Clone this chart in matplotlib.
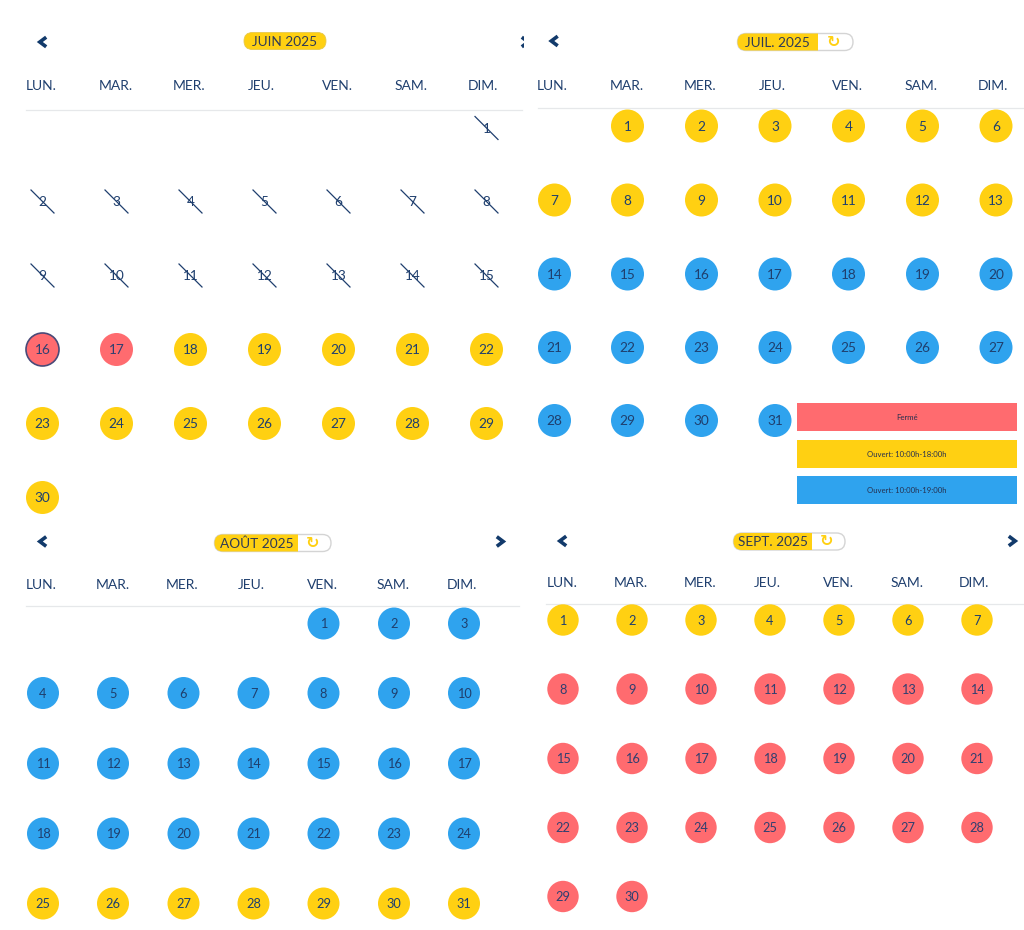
import matplotlib
matplotlib.use("Agg")
import matplotlib.pyplot as plt
from matplotlib.patches import Circle, FancyBboxPatch, Rectangle

plt.rcParams['font.family'] = ['Lato', 'DejaVu Sans']

WEEKDAYS = ["LUN.", "MAR.", "MER.", "JEU.", "VEN.", "SAM.", "DIM."]
RED, YEL, BLU, NAVY = "#FF6B6F", "#FFD012", "#2FA3EE", "#1F3F6E"

# Day status by month: x = past (struck out), r = closed, y = 10-18h, b = 10-19h
june_status = ["x"] * 15 + ["r", "r"] + ["y"] * 13
july_status = ["y"] * 13 + ["b"] * 18
aug_status = ["b"] * 24 + ["y"] * 7
sept_status = ["y"] * 7 + ["r"] * 23
first_weekday = {"june": 6, "july": 1, "aug": 4, "sept": 0}
legend_labels = ["Fermé", "Ouvert: 10:00h-18:00h", "Ouvert: 10:00h-19:00h"]
legend_colors = [RED, YEL, BLU]
legend_tops = [403, 440, 476]

panels = [
    dict(key="june", title="JUIN 2025", status=june_status, cols=[42.5, 116.5, 190.5, 264.5, 338.5, 412.5, 486.5],
         rows=[128, 201.5, 275.5, 349.5, 423.5, 497.5], head=[41, 116, 189, 261, 337, 411, 483], head_y=86.5,
         rule=(26, 522, 110), r=16.5, pill=(244, 326, None, 41), arrows=(43, 525, 42), fs=9.8),
    dict(key="july", title="JUIL. 2025", status=july_status, cols=[554.5, 627.5, 701.5, 775, 848.5, 922.5, 996],
         rows=[126, 200, 274, 347.5, 420.5], head=[552, 627, 700.5, 772, 847, 921, 993], head_y=85.5,
         rule=(538, 1024, 108), r=16.5, pill=(737.5, 853, 818, 42), arrows=(554.5, None, 41), fs=9.8),
    dict(key="aug", title="AOÛT 2025", status=aug_status, cols=[43, 113, 183.5, 253.5, 323.5, 394, 464],
         rows=[623.5, 693, 763.5, 833.5, 903.5], head=[41, 113, 182, 251, 322, 393, 462], head_y=584.5,
         rule=(26, 519, 606), r=16, pill=(214.5, 331, 298, 543), arrows=(43, 500, 541.5), fs=9.2),
    dict(key="sept", title="SEPT. 2025", status=sept_status, cols=[563, 632, 701, 770, 839, 908, 977],
         rows=[620, 689, 758.5, 827.5, 896.5], head=[562, 631, 700, 767, 838, 907, 974], head_y=582.5,
         rule=(546, 1024, 604), r=15.7, pill=(733.5, 845, 812, 541.5), arrows=(563, 1012, 541), fs=9.2),
]

fig = plt.figure(figsize=(10.24, 9.30), dpi=100)
ax = fig.add_axes([0, 0, 1, 1])
ax.set_xlim(0, 1024)
ax.set_ylim(930, 0)
ax.axis("off")
fig.patch.set_facecolor("white")
COL = {"r": RED, "y": YEL, "b": BLU}


def chevron(x, y, direction, clip=None):
    line, = ax.plot([x + direction * 3.2, x - direction * 3.2, x + direction * 3.2],
                    [y - 4.8, y, y + 4.8], color="#123A6B", lw=2.6, solid_capstyle="butt",
                    solid_joinstyle="miter", zorder=6)
    if clip is not None:
        line.set_clip_path(clip)


for p in panels:
    # Calendar cells
    wd = first_weekday[p["key"]]
    for i, status in enumerate(p["status"]):
        slot = wd + i
        cx, cy = p["cols"][slot % 7], p["rows"][slot // 7]
        if status == "x":
            ax.plot([cx - 11.5, cx + 11.5], [cy - 11.5, cy + 11.5], color=NAVY, lw=0.9, zorder=4)
        else:
            edge = "#4A4A78" if (p["key"] == "june" and i == 15) else "none"
            ax.add_patch(Circle((cx, cy), p["r"], facecolor=COL[status], edgecolor=edge, lw=1.2, zorder=2))
        ax.text(cx, cy + 0.8, str(i + 1), ha="center", va="center", fontsize=p["fs"],
                color=NAVY if status != "r" else "#2F3F70", zorder=3)
    # Weekday header
    for x, name in zip(p["head"], WEEKDAYS):
        ax.text(x, p["head_y"], name, ha="center", va="center", fontsize=10, color=NAVY)
    x0, x1, y = p["rule"]
    ax.plot([x0, x1], [y, y], color="#E6E8EA", lw=0.9, zorder=1)
    # Title pill
    a, b, split, py = p["pill"]
    h = 17
    shape = dict(boxstyle=f"round,pad=0,rounding_size={h / 2}", mutation_aspect=1)
    if split is None:
        ax.add_patch(FancyBboxPatch((a, py - h / 2), b - a, h, facecolor=YEL, edgecolor="#E6C84A", lw=0.6, zorder=2, **shape))
        tx = (a + b) / 2
    else:
        ax.add_patch(FancyBboxPatch((a, py - h / 2), b - a, h, facecolor="white", edgecolor="#D4D4D4", lw=1, zorder=2, **shape))
        fill = FancyBboxPatch((a, py - h / 2), b - a, h, facecolor=YEL, edgecolor="none", zorder=3, **shape)
        ax.add_patch(fill)
        fill.set_clip_path(Rectangle((a - 2, py - h), split - a + 2, 2 * h, transform=ax.transData))
        tx = (a + split) / 2
        ax.text((split + b) / 2 - 2, py, "↻", ha="center", va="center", fontsize=11.5,
                fontweight="bold", color=YEL, family="DejaVu Sans", zorder=4)
    ax.text(tx, py + 0.8, p["title"], ha="center", va="center", fontsize=9.8, color="#2F3A55", zorder=5)
    # Navigation arrows
    left, right, ay = p["arrows"]
    chevron(left, ay, 1)
    if right is not None:
        clip = Rectangle((0, 0), 524, 930, transform=ax.transData) if p["key"] == "june" else None
        chevron(right, ay, -1, clip)

# Legend
for top, label, color in zip(legend_tops, legend_labels, legend_colors):
    ax.add_patch(Rectangle((797, top), 220, 28, facecolor=color, edgecolor="none", zorder=5))
    ax.text(907, top + 14, label, ha="center", va="center", fontsize=5.6, color="#26304F", zorder=6)

fig.savefig("out.png", dpi=100)
